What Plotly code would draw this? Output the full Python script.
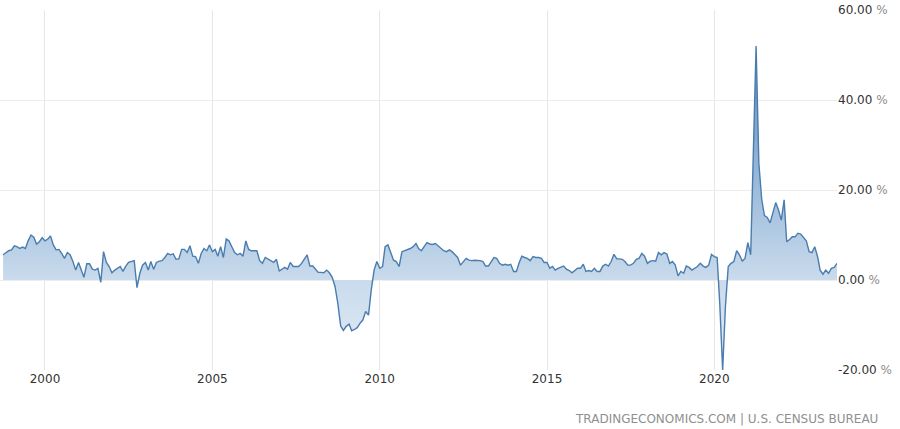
import pandas as pd
import plotly.graph_objects as go

# Monthly US retail sales YoY (%), Oct 1998 .. Sep 2023
vals_1998_2002 = [5.6, 6.1, 6.5, 6.7, 7.6, 7.4, 7.0, 7.3, 7.0, 8.7, 10.0, 9.5, 8.0, 8.5, 9.4,
                  8.7, 9.1, 9.8, 7.8, 6.7, 6.8, 5.9, 4.8, 6.1, 5.6, 4.1, 2.2, 3.9, 2.2, 0.6,
                  3.6, 3.6, 2.4, 2.2, 2.6, -0.5, 6.3, 3.9, 3.0, 1.6, 2.2, 2.6]
vals_2002_2005 = [3.0, 1.9, 3.1, 3.9, 4.1, 4.3, -1.7, 1.5, 3.3, 3.9, 2.2, 4.1, 2.4, 3.9, 4.2,
                  4.3, 5.0, 5.9, 5.6, 5.8, 4.6, 4.7, 6.8, 6.8, 6.1, 7.6, 5.3, 5.2, 3.7, 5.9,
                  7.0, 6.5, 7.8, 6.3, 6.8, 5.3, 7.4, 5.0, 9.1, 8.7, 7.4, 6.1, 5.6]
vals_2005_2008 = [5.9, 5.3, 8.7, 6.8, 6.5, 6.5, 6.5, 4.3, 3.7, 5.0, 4.6, 4.3, 3.9, 4.6, 2.0,
                  2.4, 2.8, 2.4, 3.9, 3.0, 3.0, 3.0, 3.7, 4.8, 5.6, 3.1, 3.1, 2.4, 1.7, 1.7,
                  1.6, 2.2, 1.6, 0.6, -1.5]
vals_2008_2012 = [-5.2, -10.2, -11.2, -10.3, -9.8, -11.3, -11.0, -10.6,
                  -9.6, -8.9, -7.0, -7.8, -2.2, 2.2, 4.1, 2.6, 3.0, 7.4, 7.8, 6.3, 4.4, 4.1,
                  3.0, 6.3, 6.5, 6.7, 7.0, 7.4, 8.1, 7.0, 6.5, 7.4, 8.3, 8.0, 7.9, 8.1, 7.6,
                  7.0, 6.5, 6.3, 6.7, 6.3, 5.6, 5.0, 3.3, 4.1, 4.8, 4.4, 4.3, 4.4, 4.4]
vals_2013_2016 = [4.3, 4.1, 3.1, 3.1, 4.1, 5.0, 4.8, 3.7, 3.3, 3.5, 3.3, 3.5, 1.9, 1.9, 3.7,
                  5.3, 5.0, 4.8, 4.3, 5.2, 5.0, 5.0, 4.8, 3.9, 3.9, 2.6, 3.0, 2.2, 2.6, 2.8,
                  3.1, 2.4, 2.1, 1.6, 2.2, 2.6, 2.6, 3.5, 1.9, 2.1, 1.9, 2.6, 1.9]
vals_2016_2020 = [1.9, 3.1, 3.5, 3.1, 4.1, 5.7, 4.7, 4.7, 4.6, 4.1, 3.3, 3.3, 3.7, 4.6, 4.8,
                  5.9, 5.3, 3.7, 4.2, 4.3, 4.2, 6.1, 5.6, 6.1, 5.8, 3.7, 4.1, 3.3, 0.9, 1.9,
                  1.5, 3.1, 2.8, 2.2, 2.6, 3.0, 3.7, 3.1, 2.8, 3.3, 5.7, 5.2, 5.0]
vals_2020_2023 = [-5.5, -20.0, -6.0, 3.0, 3.7, 4.1, 6.5, 5.6, 4.2, 4.8, 8.3, 5.6, 27.0, 52.0,
                  26.0, 18.0, 14.3, 13.9, 12.7, 15.2, 17.2, 15.6, 13.3, 17.8, 8.5, 9.0, 9.6,
                  9.6, 10.4, 10.2, 9.3, 8.7, 6.3, 6.1, 7.4, 5.2, 2.2, 1.3, 2.2, 1.5, 2.6, 2.8, 3.7]

values = (vals_1998_2002 + vals_2002_2005 + vals_2005_2008 + vals_2008_2012
          + vals_2013_2016 + vals_2016_2020 + vals_2020_2023)
dates = pd.date_range("1998-10-01", periods=len(values), freq="MS")

x_tick_years = [2000, 2005, 2010, 2015, 2020]
y_ticks = [-20, 0, 20, 40, 60]
y_tick_labels = ["-20.00", "0.00", "20.00", "40.00", "60.00"]

fig = go.Figure()
fig.add_trace(go.Scatter(
    x=dates, y=values, mode="lines",
    line=dict(color="#4a7cae", width=1.4),
    fill="tozeroy",
    fillgradient=dict(
        type="vertical", start=-20, stop=60,
        colorscale=[[0, "#e4ecf5"], [0.25, "#c9dbec"], [0.45, "#a6c2df"], [1, "#4f83b8"]],
    ),
    hoverinfo="skip", showlegend=False,
))

fig.update_layout(
    width=900, height=429,
    margin=dict(l=0, r=63, t=10, b=59),
    paper_bgcolor="white", plot_bgcolor="white",
    font=dict(family="DejaVu Sans", size=12, color="#333333"),
    xaxis=dict(
        range=["1998-08-28", "2023-09-01"],
        tickvals=[pd.Timestamp(f"{y}-01-01") for y in x_tick_years],
        ticktext=[str(y) for y in x_tick_years],
        showgrid=True, gridcolor="#e6e6e6", gridwidth=1,
        zeroline=False, showline=False, ticks="",
        tickfont=dict(size=12, color="#333333"),
    ),
    yaxis=dict(
        range=[-20, 60], side="right",
        tickvals=y_ticks,
        ticktext=[f"{t} <span style='color:#8c8c8c'>%</span>" for t in y_tick_labels],
        showgrid=True, gridcolor="#ececec", gridwidth=1,
        zeroline=False, showline=False, ticks="",
        tickfont=dict(size=12, color="#333333"),
    ),
    annotations=[dict(
        text="TRADINGECONOMICS.COM | U.S. CENSUS BUREAU",
        xref="paper", yref="paper", x=880 / 837, y=(370 - 419) / 360,
        xanchor="right", yanchor="middle", showarrow=False,
        font=dict(family="DejaVu Sans", size=12, color="#8f8f8f"),
    )],
)

fig.write_html("out.html", config={"displayModeBar": False},
               post_script="document.body.style.margin='0px';document.body.style.padding='0px';")
